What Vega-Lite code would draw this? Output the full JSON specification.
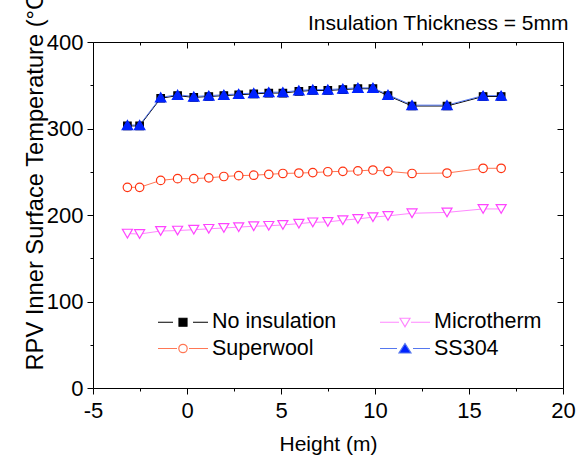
{
  "$schema": "https://vega.github.io/schema/vega-lite/v6.json",
  "width": 470,
  "height": 346,
  "autosize": {"type": "none"},
  "padding": {"left": 93, "top": 42, "right": 13, "bottom": 75},
  "background": "white",
  "data": {"values": [
    {"h": -3.17, "T": 303, "s": "No insulation"},
    {"h": -2.52, "T": 303, "s": "No insulation"},
    {"h": -1.40, "T": 335, "s": "No insulation"},
    {"h": -0.50, "T": 338, "s": "No insulation"},
    {"h": 0.36, "T": 336, "s": "No insulation"},
    {"h": 1.16, "T": 337, "s": "No insulation"},
    {"h": 1.96, "T": 338, "s": "No insulation"},
    {"h": 2.75, "T": 339, "s": "No insulation"},
    {"h": 3.55, "T": 340, "s": "No insulation"},
    {"h": 4.35, "T": 341, "s": "No insulation"},
    {"h": 5.10, "T": 341, "s": "No insulation"},
    {"h": 5.95, "T": 343, "s": "No insulation"},
    {"h": 6.69, "T": 344, "s": "No insulation"},
    {"h": 7.49, "T": 344, "s": "No insulation"},
    {"h": 8.29, "T": 345, "s": "No insulation"},
    {"h": 9.09, "T": 346, "s": "No insulation"},
    {"h": 9.89, "T": 346, "s": "No insulation"},
    {"h": 10.69, "T": 338, "s": "No insulation"},
    {"h": 11.97, "T": 326, "s": "No insulation"},
    {"h": 13.83, "T": 326, "s": "No insulation"},
    {"h": 15.75, "T": 337, "s": "No insulation"},
    {"h": 16.71, "T": 337, "s": "No insulation"},
    {"h": -3.17, "T": 232, "s": "Superwool"},
    {"h": -2.52, "T": 232, "s": "Superwool"},
    {"h": -1.40, "T": 240, "s": "Superwool"},
    {"h": -0.50, "T": 242, "s": "Superwool"},
    {"h": 0.36, "T": 242, "s": "Superwool"},
    {"h": 1.16, "T": 243, "s": "Superwool"},
    {"h": 1.96, "T": 244.5, "s": "Superwool"},
    {"h": 2.75, "T": 245.5, "s": "Superwool"},
    {"h": 3.55, "T": 246, "s": "Superwool"},
    {"h": 4.35, "T": 247, "s": "Superwool"},
    {"h": 5.10, "T": 248, "s": "Superwool"},
    {"h": 5.95, "T": 248.5, "s": "Superwool"},
    {"h": 6.69, "T": 249, "s": "Superwool"},
    {"h": 7.49, "T": 250, "s": "Superwool"},
    {"h": 8.29, "T": 250.5, "s": "Superwool"},
    {"h": 9.09, "T": 251, "s": "Superwool"},
    {"h": 9.89, "T": 252, "s": "Superwool"},
    {"h": 10.69, "T": 250.5, "s": "Superwool"},
    {"h": 11.97, "T": 248, "s": "Superwool"},
    {"h": 13.83, "T": 248.5, "s": "Superwool"},
    {"h": 15.75, "T": 254, "s": "Superwool"},
    {"h": 16.71, "T": 254, "s": "Superwool"},
    {"h": -3.17, "T": 178.5, "s": "Microtherm"},
    {"h": -2.52, "T": 178, "s": "Microtherm"},
    {"h": -1.40, "T": 181.5, "s": "Microtherm"},
    {"h": -0.50, "T": 182, "s": "Microtherm"},
    {"h": 0.36, "T": 183, "s": "Microtherm"},
    {"h": 1.16, "T": 184, "s": "Microtherm"},
    {"h": 1.96, "T": 185, "s": "Microtherm"},
    {"h": 2.75, "T": 186, "s": "Microtherm"},
    {"h": 3.55, "T": 187, "s": "Microtherm"},
    {"h": 4.35, "T": 187.5, "s": "Microtherm"},
    {"h": 5.10, "T": 188.5, "s": "Microtherm"},
    {"h": 5.95, "T": 190, "s": "Microtherm"},
    {"h": 6.69, "T": 191.5, "s": "Microtherm"},
    {"h": 7.49, "T": 192, "s": "Microtherm"},
    {"h": 8.29, "T": 194, "s": "Microtherm"},
    {"h": 9.09, "T": 195.5, "s": "Microtherm"},
    {"h": 9.89, "T": 197.5, "s": "Microtherm"},
    {"h": 10.69, "T": 199, "s": "Microtherm"},
    {"h": 11.97, "T": 202, "s": "Microtherm"},
    {"h": 13.83, "T": 203, "s": "Microtherm"},
    {"h": 15.75, "T": 207, "s": "Microtherm"},
    {"h": 16.71, "T": 207, "s": "Microtherm"},
    {"h": -3.17, "T": 304, "s": "SS304"},
    {"h": -2.52, "T": 304, "s": "SS304"},
    {"h": -1.40, "T": 336, "s": "SS304"},
    {"h": -0.50, "T": 339, "s": "SS304"},
    {"h": 0.36, "T": 337, "s": "SS304"},
    {"h": 1.16, "T": 338, "s": "SS304"},
    {"h": 1.96, "T": 339, "s": "SS304"},
    {"h": 2.75, "T": 340, "s": "SS304"},
    {"h": 3.55, "T": 341, "s": "SS304"},
    {"h": 4.35, "T": 342, "s": "SS304"},
    {"h": 5.10, "T": 342, "s": "SS304"},
    {"h": 5.95, "T": 344, "s": "SS304"},
    {"h": 6.69, "T": 345, "s": "SS304"},
    {"h": 7.49, "T": 345, "s": "SS304"},
    {"h": 8.29, "T": 346, "s": "SS304"},
    {"h": 9.09, "T": 347, "s": "SS304"},
    {"h": 9.89, "T": 347, "s": "SS304"},
    {"h": 10.69, "T": 339, "s": "SS304"},
    {"h": 11.97, "T": 327, "s": "SS304"},
    {"h": 13.83, "T": 327, "s": "SS304"},
    {"h": 15.75, "T": 338, "s": "SS304"},
    {"h": 16.71, "T": 338, "s": "SS304"}
  ]},
  "layer": [
    {
      "mark": {"type": "line", "strokeWidth": 1},
      "encoding": {
        "x": {"field": "h", "type": "quantitative", "scale": {"domain": [-5, 20], "nice": false, "zero": false},
          "axis": {"values": [-5, -2.5, 0, 2.5, 5, 7.5, 10, 12.5, 15, 17.5, 20],
            "labelExpr": "datum.value % 5 == 0 ? '' + datum.value : ''",
            "tickSize": {"condition": {"test": "datum.value % 5 == 0", "value": 6}, "value": 3},
            "labelPadding": 6, "labelFlush": false, "labelOverlap": false,
            "title": "Height (m)", "titleY": 62, "titleBaseline": "alphabetic", "titleFontSize": 21}},
        "y": {"field": "T", "type": "quantitative", "scale": {"domain": [0, 400], "nice": false},
          "axis": {"values": [0, 50, 100, 150, 200, 250, 300, 350, 400],
            "labelExpr": "datum.value % 100 == 0 ? '' + datum.value : ''",
            "tickSize": {"condition": {"test": "datum.value % 100 == 0", "value": 6}, "value": 3},
            "labelPadding": 4, "labelFlush": false, "labelOverlap": false,
            "title": "RPV Inner Surface Temperature (°C)", "titleAngle": -90, "titleAlign": "left", "titleBaseline": "alphabetic",
            "titleX": -51, "titleY": 328, "titleFontSize": 23.7}},
        "color": {"field": "s", "type": "nominal",
          "scale": {"domain": ["No insulation", "Superwool", "Microtherm", "SS304"], "range": ["#000000", "#ff7755", "#ff88ff", "#5577ee"]},
          "legend": {"title": null, "orient": "none", "legendX": 79, "legendY": 269, "columns": 2, "padding": 0,
            "symbolSize": 400, "labelOffset": 18, "rowPadding": 4.5, "columnPadding": 40,
            "labelFont": "Liberation Sans", "labelFontSize": 21.5, "labelColor": "black", "labelLimit": 300,
            "encode": {"symbols": {"update": {
              "shape": {"signal": "datum.value === 'No insulation' ? 'M-2.5,0H-1M1,0H2.5M-0.4,-0.4H0.4V0.4H-0.4Z' : datum.value === 'Superwool' ? 'M-2.5,0H-0.6M0.6,0H2.5M0.42,0A0.42,0.42,0,1,1,-0.42,0A0.42,0.42,0,1,1,0.42,0Z' : datum.value === 'Microtherm' ? 'M-2.5,0H-0.6M0.6,0H2.5M-0.5,-0.4L0.5,-0.4L0,0.45Z' : 'M-2.5,0H-0.8M0.8,0H2.5M0,-0.5L-0.6,0.45L0.6,0.45Z'"},
              "fill": {"signal": "datum.value === 'No insulation' ? '#000000' : datum.value === 'SS304' ? '#0022ff' : '#ffffff'"},
              "stroke": {"signal": "datum.value === 'No insulation' ? '#000000' : datum.value === 'Superwool' ? '#ff3311' : datum.value === 'Microtherm' ? '#ff44ff' : '#2244ff'"},
              "strokeWidth": {"value": 1.2},
              "opacity": {"value": 1}
            }}}}}
      }
    },
    {
      "mark": {"type": "point", "strokeWidth": 1.2, "opacity": 1},
      "encoding": {
        "x": {"field": "h", "type": "quantitative", "axis": null},
        "y": {"field": "T", "type": "quantitative", "axis": null},
        "shape": {"field": "s", "type": "nominal", "legend": null,
          "scale": {"domain": ["SS304", "No insulation", "Superwool", "Microtherm"], "range": ["triangle-up", "square", "circle", "triangle-down"]}},
        "fill": {"field": "s", "type": "nominal", "legend": null,
          "scale": {"domain": ["SS304", "No insulation", "Superwool", "Microtherm"], "range": ["#0022ff", "#000000", "#ffffff", "#ffffff"]}},
        "stroke": {"field": "s", "type": "nominal", "legend": null,
          "scale": {"domain": ["SS304", "No insulation", "Superwool", "Microtherm"], "range": ["#0022ff", "#000000", "#ff3311", "#ff44ff"]}},
        "size": {"field": "s", "type": "nominal", "legend": null,
          "scale": {"type": "ordinal", "domain": ["SS304", "No insulation", "Superwool", "Microtherm"], "range": [110, 56, 72, 100]}}
      }
    },
    {
      "mark": {"type": "point", "opacity": 0},
      "encoding": {
        "x": {"field": "h", "type": "quantitative",
          "axis": {"orient": "top", "values": [-5, -2.5, 0, 2.5, 5, 7.5, 10, 12.5, 15, 17.5, 20], "labels": false,
            "title": "Insulation Thickness = 5mm", "titleX": 475, "titleY": -13, "titleAlign": "right", "titleBaseline": "alphabetic", "titleFontSize": 21,
            "tickSize": {"condition": {"test": "datum.value % 5 == 0", "value": -6}, "value": -3}}},
        "y": {"field": "T", "type": "quantitative",
          "axis": {"orient": "right", "values": [0, 50, 100, 150, 200, 250, 300, 350, 400], "labels": false, "title": null,
            "tickSize": {"condition": {"test": "datum.value % 100 == 0", "value": -6}, "value": -3}}}
      }
    }
  ],
  "resolve": {"axis": {"x": "independent", "y": "independent"}},
  "config": {
    "view": {"stroke": null},
    "axis": {"grid": false, "domainColor": "black", "domainWidth": 1, "tickColor": "black", "tickWidth": 1,
      "labelFont": "Liberation Sans", "labelFontSize": 22, "labelColor": "black",
      "titleFont": "Liberation Sans", "titleFontWeight": "normal", "titleColor": "black"}
  }
}
